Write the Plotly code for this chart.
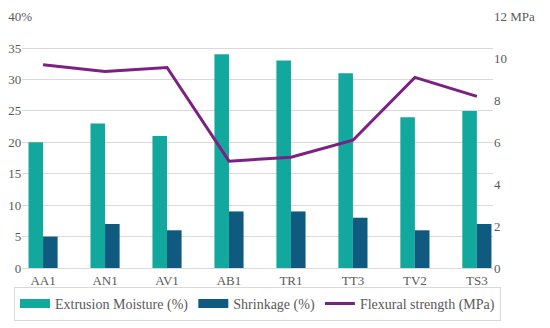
import plotly.graph_objects as go

categories = ["AA1", "AN1", "AV1", "AB1", "TR1", "TT3", "TV2", "TS3"]
extrusion_moisture = [20, 23, 21, 34, 33, 31, 24, 25]
shrinkage = [5, 7, 6, 9, 9, 8, 6, 7]
flexural_strength = [9.7, 9.38, 9.57, 5.1, 5.29, 6.1, 9.1, 8.19]

left_ticks = [0, 5, 10, 15, 20, 25, 30, 35, 40]
right_ticks = [0, 2, 4, 6, 8, 10, 12]

TEAL = "#13A89E"
DARK = "#0F5A7E"
PURPLE = "#7D2083"
FONT = "Times New Roman"
FONT2 = "serif"
TICKC = "#595959"
GRID = "#D9D9D9"

pad = "<span style='color:rgba(0,0,0,0)'>%</span>"
left_text = [f"{v}{pad}" for v in left_ticks[:-1]] + [f"{left_ticks[-1]}%"]
right_text = [str(v) for v in right_ticks[:-1]] + [f"{right_ticks[-1]} MPa"]

fig = go.Figure()
fig.add_trace(go.Bar(x=categories, y=extrusion_moisture, name="Extrusion Moisture (%)",
                     marker=dict(color=TEAL, line=dict(width=0)), showlegend=False))
fig.add_trace(go.Bar(x=categories, y=shrinkage, name="Shrinkage (%)",
                     marker=dict(color=DARK, line=dict(width=0)), showlegend=False))
fig.add_trace(go.Scatter(x=categories, y=flexural_strength, name="Flexural strength (MPa)",
                         mode="lines", line=dict(color=PURPLE, width=3), yaxis="y2",
                         showlegend=False))
fig.add_trace(go.Scatter(x=[None], y=[None], mode="lines", name="Extrusion Moisture (%)",
                         line=dict(color=TEAL, width=9)))
fig.add_trace(go.Scatter(x=[None], y=[None], mode="lines", name="Shrinkage (%)",
                         line=dict(color=DARK, width=9)))
fig.add_trace(go.Scatter(x=[None], y=[None], mode="lines", name="Flexural strength (MPa)",
                         line=dict(color=PURPLE, width=3)))

fig.update_layout(
    width=550, height=328,
    margin=dict(l=22, r=57, t=16, b=60, autoexpand=False),
    paper_bgcolor="white", plot_bgcolor="white",
    font=dict(family=FONT, size=13, color=TICKC),
    barmode="group", bargap=0.53, bargroupgap=0,
    xaxis=dict(type="category", range=[-0.34, 7.26], showgrid=False, automargin=False,
               showline=True, linecolor=GRID, linewidth=1, ticks="",
               tickfont=dict(family=FONT, size=13, color=TICKC)),
    yaxis=dict(range=[0, 40.1], tickvals=left_ticks, ticktext=left_text, automargin=False,
               showgrid=True, gridcolor=GRID, gridwidth=1, zeroline=False,
               ticks="", ticklabelstandoff=-11,
               tickfont=dict(family=FONT, size=13, color=TICKC)),
    yaxis2=dict(range=[0, 12.03], tickvals=right_ticks, ticktext=right_text, automargin=False,
                overlaying="y", side="right", showgrid=False, zeroline=False,
                ticks="", tickfont=dict(family=FONT, size=13, color=TICKC)),
    legend=dict(orientation="h", x=-0.017, xanchor="left", y=-0.075, yanchor="top",
                bordercolor=GRID, borderwidth=1, font=dict(family=FONT2, size=14, color=TICKC),
                itemwidth=30, traceorder="normal"),
)

fig.write_html("out.html", config={"displayModeBar": False},
               post_script="document.body.style.margin='0';")
